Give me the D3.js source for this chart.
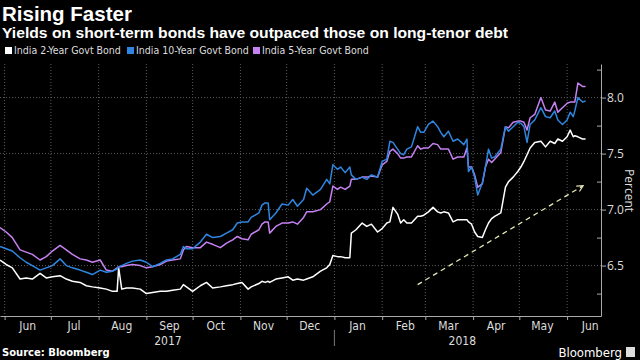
<!DOCTYPE html>
<meta charset="utf-8">
<style>
body { margin: 0; background: #000; }
svg { display: block; background: #000; }
.narrow { font-family: "Liberation Sans Narrow", "DejaVu Sans Condensed", "Roboto", sans-serif; }
.axis path, .axis line { stroke: #aaa; }
.axis text { fill: #ddd; }
</style>
<svg id="chart" width="640" height="360"></svg>
<script src="https://d3js.org/d3.v7.min.js"></script>
<script>

var dates = ["2017-05-29","2017-06-02","2017-06-06","2017-06-11","2017-06-15","2017-06-19","2017-06-24","2017-06-28","2017-07-02","2017-07-07",
  "2017-07-11","2017-07-15","2017-07-20","2017-07-24","2017-07-28","2017-08-02","2017-08-06","2017-08-10","2017-08-13","2017-08-14",
  "2017-08-16","2017-08-19","2017-08-23","2017-08-28","2017-09-01","2017-09-05","2017-09-10","2017-09-14","2017-09-18","2017-09-23",
  "2017-09-25","2017-09-27","2017-10-01","2017-10-06","2017-10-10","2017-10-14","2017-10-19","2017-10-23","2017-10-27","2017-10-30",
  "2017-11-02","2017-11-06","2017-11-08","2017-11-13","2017-11-15","2017-11-17","2017-11-19","2017-11-20","2017-11-24","2017-11-28",
  "2017-12-02","2017-12-05","2017-12-08","2017-12-12","2017-12-14","2017-12-18","2017-12-23","2017-12-27","2017-12-29","2017-12-31",
  "2018-01-03","2018-01-05","2018-01-08","2018-01-11","2018-01-12","2018-01-15","2018-01-19","2018-01-22","2018-01-25","2018-01-29",
  "2018-02-01","2018-02-04","2018-02-06","2018-02-08","2018-02-11","2018-02-13","2018-02-15","2018-02-17","2018-02-20","2018-02-24",
  "2018-02-26","2018-02-28","2018-03-03","2018-03-06","2018-03-09","2018-03-11","2018-03-13","2018-03-16","2018-03-19","2018-03-22",
  "2018-03-26","2018-03-28","2018-03-29","2018-03-31","2018-04-02","2018-04-04","2018-04-07","2018-04-09","2018-04-11","2018-04-13",
  "2018-04-15","2018-04-19","2018-04-22","2018-04-24","2018-04-27","2018-04-30","2018-05-02","2018-05-04","2018-05-06","2018-05-08",
  "2018-05-11","2018-05-15","2018-05-18","2018-05-21","2018-05-24","2018-05-26","2018-05-29","2018-06-01","2018-06-03","2018-06-05",
  "2018-06-06","2018-06-08","2018-06-11","2018-06-13"];

// India 2-Year Govt Bond yield, percent
var twoYear = [6.55,6.51,6.48,6.38,6.39,6.38,6.43,6.39,6.40,6.41,
  6.38,6.36,6.35,6.32,6.31,6.30,6.29,6.27,6.27,6.48,
  6.29,6.30,6.30,6.29,6.25,6.26,6.27,6.27,6.28,6.29,
  6.33,6.31,6.27,6.32,6.35,6.30,6.31,6.32,6.33,6.34,
  6.35,6.29,6.31,6.34,6.36,6.35,6.36,6.35,6.38,6.39,
  6.40,6.37,6.38,6.37,6.38,6.40,6.45,6.48,6.51,6.59,
  6.58,6.58,6.57,6.57,6.79,6.82,6.88,6.85,6.87,6.80,
  6.83,6.88,6.89,7.02,6.96,6.88,6.91,6.88,6.88,6.94,
  6.94,6.95,6.98,7.02,6.98,6.97,6.98,6.97,6.89,6.91,
  6.91,6.91,6.89,6.87,6.80,6.76,6.75,6.82,6.88,6.92,
  6.94,6.97,7.20,7.25,7.29,7.34,7.38,7.43,7.49,7.55,
  7.60,7.61,7.56,7.61,7.59,7.63,7.61,7.65,7.71,7.65,
  7.66,7.65,7.63,7.63];

// India 10-Year Govt Bond yield, percent
var tenYear = [6.67,6.65,6.63,6.57,6.53,6.50,6.46,6.48,6.50,6.56,
  6.50,6.48,6.46,6.44,6.42,6.46,6.44,6.45,6.47,6.49,
  6.50,6.52,6.54,6.55,6.53,6.49,6.52,6.55,6.56,6.60,
  6.67,6.65,6.65,6.71,6.78,6.75,6.76,6.79,6.82,6.88,
  6.89,6.89,6.93,6.97,7.04,7.06,7.06,6.91,6.97,7.05,
  7.04,7.09,7.03,7.09,7.19,7.13,7.18,7.27,7.23,7.40,
  7.36,7.38,7.33,7.38,7.31,7.27,7.29,7.27,7.31,7.29,
  7.43,7.45,7.61,7.60,7.54,7.50,7.49,7.54,7.56,7.74,
  7.69,7.69,7.76,7.79,7.74,7.69,7.65,7.70,7.61,7.63,
  7.58,7.63,7.34,7.38,7.29,7.13,7.24,7.38,7.54,7.46,
  7.47,7.54,7.74,7.70,7.74,7.78,7.77,7.74,7.60,7.76,
  7.80,7.91,7.83,7.82,7.88,7.80,7.76,7.80,7.87,7.83,
  7.88,8.00,7.96,7.97];

// India 5-Year Govt Bond yield, percent
var fiveYear = [6.84,6.80,6.75,6.64,6.62,6.60,6.55,6.58,6.63,6.68,
  6.64,6.60,6.56,6.55,6.53,6.55,6.46,6.45,6.48,6.49,
  6.49,6.50,6.51,6.50,6.48,6.49,6.51,6.54,6.55,6.56,
  6.64,6.67,6.66,6.66,6.71,6.69,6.66,6.70,6.73,6.76,
  6.74,6.73,6.78,6.82,6.87,6.89,6.89,6.79,6.85,6.88,
  6.88,6.89,6.87,6.93,6.98,6.98,7.00,7.05,7.07,7.21,
  7.18,7.20,7.18,7.21,7.27,7.27,7.29,7.29,7.30,7.29,
  7.40,7.43,7.52,7.54,7.50,7.46,7.46,7.47,7.47,7.57,
  7.54,7.55,7.55,7.59,7.58,7.54,7.54,7.54,7.45,7.47,
  7.47,7.55,7.38,7.38,7.31,7.20,7.23,7.38,7.45,7.42,
  7.45,7.51,7.74,7.73,7.78,7.79,7.79,7.78,7.71,7.82,
  7.85,8.00,7.89,7.88,7.96,7.87,7.91,7.95,7.96,7.96,
  7.96,8.13,8.10,8.10];

var seriesNames = ["India 2-Year Govt Bond", "India 10-Year Govt Bond", "India 5-Year Govt Bond"];
var seriesColors = ["#ffffff", "#2f86e0", "#c681f2"];

var yTicks = [6.5, 7.0, 7.5, 8.0];
var yMinorTicks = [6.25, 6.75, 7.25, 7.75, 8.25];

// dashed trend arrow: start and end as [date, value]
var arrowFrom = ["2018-02-24", 6.33],
    arrowTo = ["2018-06-11", 7.21];

var parse = d3.timeParse("%Y-%m-%d");

var svg = d3.select("svg"),
    plotLeft = 0, plotRight = 601, plotTop = 64, plotBottom = 316;

var x = d3.scaleTime()
    .domain([new Date(2017, 4, 29), new Date(2018, 5, 23)])
    .range([plotLeft, plotRight]);

var y = d3.scaleLinear()
    .domain([6.05, 8.3])
    .range([plotBottom, plotTop]);

var months = d3.timeMonth.range(new Date(2017, 5, 1), new Date(2018, 5, 2));

// titles
svg.append("text")
    .attr("x", 2).attr("y", 21)
    .attr("fill", "#fff")
    .style("font", "bold 20.5px 'Liberation Sans', Arial, sans-serif")
    .text("Rising Faster");

svg.append("text")
    .attr("x", 2).attr("y", 38)
    .attr("fill", "#fff")
    .attr("textLength", 506)
    .attr("lengthAdjust", "spacingAndGlyphs")
    .style("font", "bold 15px 'Liberation Sans', Arial, sans-serif")
    .text("Yields on short-term bonds have outpaced those on long-tenor debt");

// legend
var legendX = [5, 127, 253];
var legend = svg.selectAll(".legend")
  .data(seriesNames)
  .enter().append("g")
    .attr("class", "legend narrow")
    .attr("transform", function(d, i) { return "translate(" + legendX[i] + ",47)"; });

legend.append("rect")
    .attr("width", 7).attr("height", 7)
    .attr("fill", function(d, i) { return seriesColors[i]; });

legend.append("text")
    .attr("x", 9).attr("y", 7)
    .attr("fill", "#ddd")
    .style("font-size", "10.5px")
    .text(function(d) { return d; });

// grid
var grid = svg.append("g")
    .attr("stroke", "#5a5a5a")
    .attr("stroke-dasharray", "1,2");

grid.selectAll(".h")
  .data(yTicks)
  .enter().append("line")
    .attr("x1", plotLeft).attr("x2", plotRight)
    .attr("y1", function(d) { return y(d); })
    .attr("y2", function(d) { return y(d); });

grid.selectAll(".v")
  .data(months)
  .enter().append("line")
    .attr("x1", function(d) { return x(d); })
    .attr("x2", function(d) { return x(d); })
    .attr("y1", plotTop).attr("y2", plotBottom);

// x axis
svg.append("g")
    .attr("class", "axis")
    .attr("transform", "translate(0," + plotBottom + ")")
    .call(d3.axisBottom(x).tickValues(months).tickSize(4).tickFormat("").tickSizeOuter(0));

var labelMonths = months.map(function(m) { return d3.timeDay.offset(m, 15); });

svg.append("g")
    .attr("class", "narrow")
  .selectAll("text")
  .data(labelMonths)
  .enter().append("text")
    .attr("x", function(d) { return x(d); })
    .attr("y", 330)
    .attr("text-anchor", "middle")
    .attr("fill", "#ddd")
    .style("font-size", "12px")
    .text(d3.timeFormat("%b"));

var years = [[new Date(2017, 8, 15), "2017"], [new Date(2018, 2, 25), "2018"]];
svg.append("g")
    .attr("class", "narrow")
  .selectAll("text")
  .data(years)
  .enter().append("text")
    .attr("x", function(d) { return x(d[0]); })
    .attr("y", 345)
    .attr("text-anchor", "middle")
    .attr("fill", "#ddd")
    .style("font-size", "12px")
    .text(function(d) { return d[1]; });

svg.append("line")
    .attr("x1", x(new Date(2018, 0, 1))).attr("x2", x(new Date(2018, 0, 1)))
    .attr("y1", 330).attr("y2", 346)
    .attr("stroke", "#777");

// y axis (right)
var yAxis = svg.append("g")
    .attr("class", "axis")
    .attr("transform", "translate(" + plotRight + ",0)")
    .call(d3.axisRight(y).tickValues(yTicks).tickFormat(d3.format(".1f")).tickSize(5).tickSizeOuter(0));

yAxis.selectAll("text")
    .style("font-family", "'Open Sans', 'DejaVu Sans', sans-serif")
    .style("font-size", "12px")
    .attr("x", 6);

svg.append("g")
    .attr("class", "axis")
    .attr("transform", "translate(" + plotRight + ",0)")
    .call(d3.axisLeft(y).tickValues(yMinorTicks).tickSize(4).tickFormat(""))
    .select(".domain").remove();

svg.append("text")
    .attr("transform", "translate(625," + y(7.17) + ") rotate(90)")
    .attr("text-anchor", "middle")
    .attr("fill", "#ddd")
    .style("font", "12px 'Open Sans', 'DejaVu Sans', sans-serif")
    .text("Percent");

// lines
var series = [twoYear, tenYear, fiveYear].map(function(vals) {
  return vals.map(function(v, i) { return {date: parse(dates[i]), value: v}; });
});

var line = d3.line()
    .x(function(d) { return x(d.date); })
    .y(function(d) { return y(d.value); });

// draw order: white, purple, blue on top where they meet
svg.selectAll(".series")
  .data([0, 2, 1])
  .enter().append("path")
    .attr("fill", "none")
    .attr("stroke", function(i) { return seriesColors[i]; })
    .attr("stroke-width", 1.5)
    .attr("stroke-linejoin", "round")
    .attr("d", function(i) { return line(series[i]); });

// arrow
svg.append("defs").append("marker")
    .attr("id", "head")
    .attr("viewBox", "0 0 10 10")
    .attr("refX", 8).attr("refY", 5)
    .attr("markerWidth", 6).attr("markerHeight", 6)
    .attr("orient", "auto")
  .append("path")
    .attr("d", "M1,1L9,5L1,9")
    .attr("fill", "none")
    .attr("stroke", "#e4e6b4")
    .attr("stroke-width", 1.5);

svg.append("line")
    .attr("x1", x(parse(arrowFrom[0]))).attr("y1", y(arrowFrom[1]))
    .attr("x2", x(parse(arrowTo[0]))).attr("y2", y(arrowTo[1]))
    .attr("stroke", "#e4e6b4")
    .attr("stroke-width", 1.3)
    .attr("stroke-dasharray", "5,4")
    .attr("marker-end", "url(#head)");

// footer
svg.append("text")
    .attr("x", 2).attr("y", 356)
    .attr("fill", "#fff")
    .style("font", "bold 10px 'DejaVu Sans', sans-serif")
    .text("Source: Bloomberg");

svg.append("text")
    .attr("x", 622).attr("y", 357)
    .attr("text-anchor", "end")
    .attr("fill", "#fff")
    .style("font", "13px 'Liberation Sans Narrow', 'DejaVu Sans Condensed', sans-serif")
    .text("Bloomberg");

svg.append("rect")
    .attr("x", 626).attr("y", 347).attr("width", 9).attr("height", 10)
    .attr("fill", "#ddd");

</script>
